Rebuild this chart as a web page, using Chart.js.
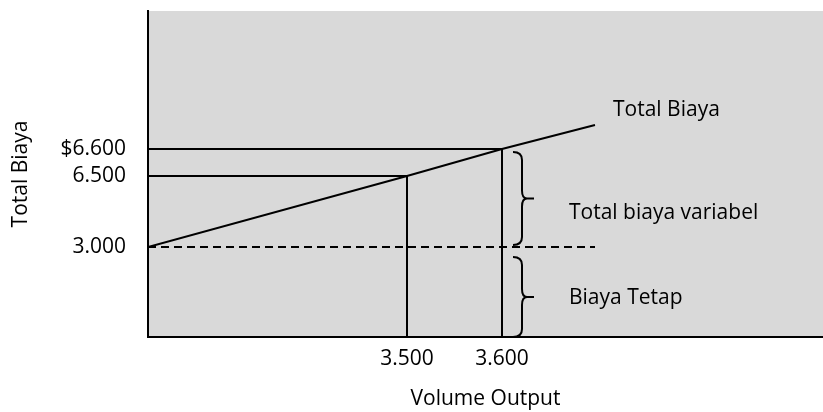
<!DOCTYPE html>
<html>
<head>
<meta charset="utf-8">
<script src="https://cdn.jsdelivr.net/npm/chart.js@4.4.1/dist/chart.umd.min.js"></script>
<style>
  html, body { margin: 0; padding: 0; background: #ffffff; }
  #wrap { width: 823px; height: 412px; position: relative; }
</style>
</head>
<body>
<div id="wrap"><canvas id="c"></canvas></div>
<script>
// ---- data ----
const volumes = [0, 3500, 3600, 3700];          // volume output
const totalCost = [3000, 6500, 6600, 6700];     // total biaya
const fixedCost = 3000;                          // biaya tetap
const markedVolumes = [3500, 3600];
const markedCosts = [6500, 6600];
const xTickValues = [3500, 3600];
const xTickLabels = ['3.500', '3.600'];
const yTickValues = [3000, 6500, 6600];
const yTickLabels = ['3.000', '6.500', '$6.600'];
const annotations = ['Total Biaya', 'Total biaya variabel', 'Biaya Tetap'];

// ---- schematic (non-linear) axis anchors: value -> fraction of axis length ----
const ANCHORS = {
  x: { values: [0, 3500, 3600, 3700, 4400], fractions: [0, 259/675, 354/675, 447/675, 1] },
  y: { values: [0, 3000, 6500, 6600, 6700, 8000], fractions: [0, 90/326, 161/326, 188/326, 212/326, 1] }
};

class PiecewiseScale extends Chart.LinearScale {
  _anch() { return ANCHORS[this.axis]; }
  _toFrac(v) {
    const a = this._anch(), vs = a.values, fs = a.fractions;
    if (v <= vs[0]) return fs[0];
    for (let i = 1; i < vs.length; i++) {
      if (v <= vs[i]) return fs[i-1] + (v - vs[i-1]) / (vs[i] - vs[i-1]) * (fs[i] - fs[i-1]);
    }
    return fs[fs.length - 1];
  }
  _fromFrac(f) {
    const a = this._anch(), vs = a.values, fs = a.fractions;
    for (let i = 1; i < fs.length; i++) {
      if (f <= fs[i]) return vs[i-1] + (f - fs[i-1]) / (fs[i] - fs[i-1]) * (vs[i] - vs[i-1]);
    }
    return vs[vs.length - 1];
  }
  getPixelForValue(value) {
    if (value === null || value === undefined || isNaN(value)) return NaN;
    return this.getPixelForDecimal(this._toFrac(value));
  }
  getValueForPixel(pixel) {
    return this._fromFrac(this.getDecimalForPixel(pixel));
  }
}
PiecewiseScale.id = 'piecewise';
PiecewiseScale.defaults = Chart.LinearScale.defaults;
Chart.register(PiecewiseScale);

const FONT = "'Open Sans', 'Noto Sans', sans-serif";
const FS = 21;
const INK = '#000000';
const LW = 2;

const totalLine = volumes.map((v, i) => ({ x: v, y: totalCost[i] }));
const fixedLine = [{ x: volumes[0], y: fixedCost }, { x: volumes[volumes.length - 1], y: fixedCost }];
const guideSets = markedVolumes.map((v, i) => ({
  data: [{ x: 0, y: markedCosts[i] }, { x: v, y: markedCosts[i] }, { x: v, y: 0 }],
  borderColor: INK, borderWidth: LW, pointRadius: 0, tension: 0, fill: false
}));

const bgPlugin = {
  id: 'bg',
  beforeDraw(chart) {
    const { ctx, chartArea: a } = chart;
    ctx.save();
    ctx.fillStyle = '#d9d9d9';
    ctx.fillRect(a.left, a.top, a.right - a.left, a.bottom - a.top);
    ctx.restore();
  }
};

function drawBrace(ctx, x0, yT, yB) {
  const xs = x0 + 9, xt = x0 + 21, ym = (yT + yB) / 2, r = 8;
  ctx.beginPath();
  ctx.moveTo(x0, yT);
  ctx.quadraticCurveTo(xs, yT, xs, yT + r);
  ctx.lineTo(xs, ym - r);
  ctx.quadraticCurveTo(xs, ym, xs + 5, ym);
  ctx.lineTo(xt, ym);
  ctx.moveTo(xs + 5, ym);
  ctx.quadraticCurveTo(xs, ym, xs, ym + r);
  ctx.lineTo(xs, yB - r);
  ctx.quadraticCurveTo(xs, yB, x0, yB);
  ctx.stroke();
}

const notePlugin = {
  id: 'notes',
  afterDatasetsDraw(chart) {
    const { ctx } = chart;
    const xs = chart.scales.x, ys = chart.scales.y;
    const xMark = xs.getPixelForValue(markedVolumes[markedVolumes.length - 1]);
    const yTop = ys.getPixelForValue(markedCosts[markedCosts.length - 1]);
    const yFix = ys.getPixelForValue(fixedCost);
    const yZero = ys.getPixelForValue(0);
    const endX = xs.getPixelForValue(volumes[volumes.length - 1]);
    const endY = ys.getPixelForValue(totalCost[totalCost.length - 1]);
    ctx.save();
    ctx.strokeStyle = INK;
    ctx.lineWidth = LW;
    drawBrace(ctx, xMark + 11, yTop + 3, yFix - 2);
    drawBrace(ctx, xMark + 11, yFix + 10, yZero);
    ctx.fillStyle = INK;
    ctx.font = FS + 'px ' + FONT;
    ctx.textAlign = 'left';
    ctx.textBaseline = 'middle';
    ctx.fillText(annotations[0], endX + 18, endY - 15);
    ctx.fillText(annotations[1], xMark + 67, (yTop + yFix) / 2 + 15);
    ctx.fillText(annotations[2], xMark + 67, (yFix + yZero) / 2 + 6);
    ctx.restore();
  }
};

new Chart(document.getElementById('c'), {
  type: 'line',
  data: {
    datasets: [
      { data: totalLine, borderColor: INK, borderWidth: LW, pointRadius: 0, tension: 0, fill: false },
      { data: fixedLine, borderColor: INK, borderWidth: LW, borderDash: [8, 5], pointRadius: 0, tension: 0, fill: false },
      ...guideSets
    ]
  },
  options: {
    responsive: true,
    maintainAspectRatio: false,
    animation: false,
    events: [],
    layout: { padding: { top: 11, right: 0, left: 0, bottom: 0 } },
    plugins: { legend: { display: false }, tooltip: { enabled: false } },
    scales: {
      x: {
        type: 'piecewise',
        min: ANCHORS.x.values[0],
        max: ANCHORS.x.values[ANCHORS.x.values.length - 1],
        grid: { display: false, drawTicks: false },
        border: { display: true, color: INK, width: 2 },
        afterBuildTicks: s => { s.ticks = xTickValues.map(v => ({ value: v })); },
        afterFit: s => { s.height = 75; s.paddingLeft = 0; s.paddingRight = 0; },
        ticks: {
          autoSkip: false, maxRotation: 0, padding: 9, color: INK,
          font: { family: FONT, size: FS },
          callback: v => { const i = xTickValues.indexOf(v); return i >= 0 ? xTickLabels[i] : ''; }
        },
        title: { display: true, text: 'Volume Output', color: INK, font: { family: FONT, size: FS }, padding: { top: 0, bottom: 0 } }
      },
      y: {
        type: 'piecewise',
        min: ANCHORS.y.values[0],
        max: ANCHORS.y.values[ANCHORS.y.values.length - 1],
        grid: { display: false, drawTicks: false },
        border: { display: true, color: INK, width: 2 },
        afterBuildTicks: s => { s.ticks = yTickValues.map(v => ({ value: v })); },
        afterFit: s => { s.width = 148; s.paddingTop = 0; s.paddingBottom = 0; },
        ticks: {
          autoSkip: false, padding: 22, color: INK,
          font: { family: FONT, size: FS },
          callback: v => { const i = yTickValues.indexOf(v); return i >= 0 ? yTickLabels[i] : ''; }
        },
        title: { display: true, text: 'Total Biaya', color: INK, font: { family: FONT, size: FS }, padding: { top: 8, bottom: 0 } }
      }
    }
  },
  plugins: [bgPlugin, notePlugin]
});
</script>
</body>
</html>
